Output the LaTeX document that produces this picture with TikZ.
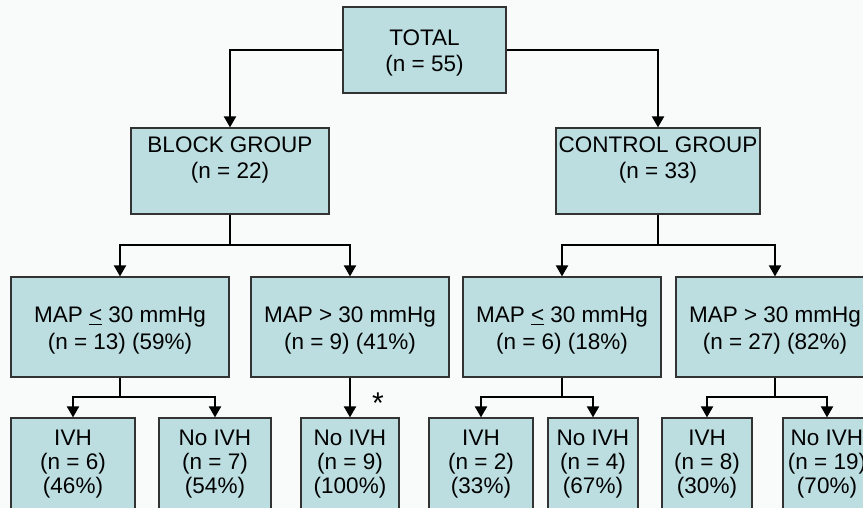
\documentclass[tikz,border=0pt]{standalone}
\usepackage{fontspec}
\setmainfont{Liberation Sans}
\usetikzlibrary{arrows.meta}
\definecolor{boxfill}{HTML}{BCDEE1}
\definecolor{boxline}{HTML}{333333}
\definecolor{bg}{HTML}{F9FBFB}
\tikzset{
  box/.style={draw=boxline, line width=1.2pt, fill=boxfill, rectangle, inner sep=0pt},
  txt/.style={align=center, inner sep=0pt, font=\fontsize{22.5}{26.5}\selectfont},
  txtsmall/.style={align=center, inner sep=0pt, font=\fontsize{22.5}{24}\selectfont},
  link/.style={line width=2pt},
  arr/.style={link, -{Triangle[length=11pt,width=12pt]}},
}
\newcommand{\boxat}[5]{% name, x1, y1, x2, y2
  \node[box, minimum width={(#4-#2)*1pt}, minimum height={(#5-#3)*1pt}] (#1) at ({(#2+#4)/2},{(#3+#5)/2}) {};}
\begin{document}
\begin{tikzpicture}[x=1pt,y=-1pt]
\useasboundingbox (0,0) rectangle (863,508);
\fill[bg] (0,0) rectangle (863,508);
\clip (0,0) rectangle (863,508);
% level 1
\boxat{total}{343}{7}{506}{93}
\node[txt] (totalt) at (424.5,53) {TOTAL\\(n = 55)};
% level 2
\boxat{block}{131}{128}{329}{214}
\node[txt] (blockt) at (230,160) {BLOCK GROUP\\(n = 22)};
\boxat{control}{556}{128}{760}{214}
\node[txt] (controlt) at (658,160) {CONTROL GROUP\\(n = 33)};
% level 3
\boxat{mapa}{11}{277}{229}{377}
\node[txt] (mapat) at (120,330.5) {MAP \underline{<} 30 mmHg\\(n = 13) (59\%)};
\boxat{mapb}{251}{277}{449}{377}
\node[txt] (mapbt) at (350,330.5) {MAP > 30 mmHg\\(n = 9) (41\%)};
\boxat{mapc}{463}{277}{661}{377}
\node[txt] (mapct) at (562,330.5) {MAP \underline{<} 30 mmHg\\(n = 6) (18\%)};
\boxat{mapd}{676}{277}{874}{377}
\node[txt] (mapdt) at (775,330.5) {MAP > 30 mmHg\\(n = 27) (82\%)};
% level 4
\boxat{ra}{11}{418}{135}{540}
\node[txtsmall] (rat) at (73,464) {IVH\\(n = 6)\\(46\%)};
\boxat{rb}{159}{418}{271}{540}
\node[txtsmall] (rbt) at (215,464) {No IVH\\(n = 7)\\(54\%)};
\boxat{rc}{301}{418}{399}{540}
\node[txtsmall] (rct) at (350,464) {No IVH\\(n = 9)\\(100\%)};
\boxat{rd}{429}{418}{533}{540}
\node[txtsmall] (rdt) at (481,464) {IVH\\(n = 2)\\(33\%)};
\boxat{re}{548}{418}{638}{540}
\node[txtsmall] (ret) at (593,464) {No IVH\\(n = 4)\\(67\%)};
\boxat{rf}{662}{418}{752}{540}
\node[txtsmall] (rft) at (707,464) {IVH\\(n = 8)\\(30\%)};
\boxat{rg}{783}{418}{871}{540}
\node[txtsmall] (rgt) at (827,464) {No IVH\\(n = 19)\\(70\%)};
% connectors
\draw[arr] (total.west) -| (block.north);
\draw[arr] (total.east) -| (control.north);
\coordinate (jb) at (230,245);
\coordinate (jc) at (658,245);
\draw[link] (block.south) -- (jb);
\draw[arr] (jb) -| (mapa.north);
\draw[arr] (jb) -| (mapb.north);
\draw[link] (control.south) -- (jc);
\draw[arr] (jc) -| (mapc.north);
\draw[arr] (jc) -| (mapd.north);
\coordinate (ja) at (120,397);
\coordinate (jd) at (562,397);
\coordinate (je) at (775,397);
\draw[link] (mapa.south) -- (ja);
\draw[arr] (ja) -| (ra.north);
\draw[arr] (ja) -| (rb.north);
\draw[arr] (mapb.south) -- (rc.north);
\draw[link] (mapc.south) -- (jd);
\draw[arr] (jd) -| (rd.north);
\draw[arr] (jd) -| (re.north);
\draw[link] (mapd.south) -- (je);
\draw[arr] (je) -| (rf.north);
\draw[arr] (je) -| (rg.north);
\node[font=\fontsize{30}{30}\selectfont, inner sep=0pt] (star) at (378,403) {*};
\end{tikzpicture}
\end{document}
